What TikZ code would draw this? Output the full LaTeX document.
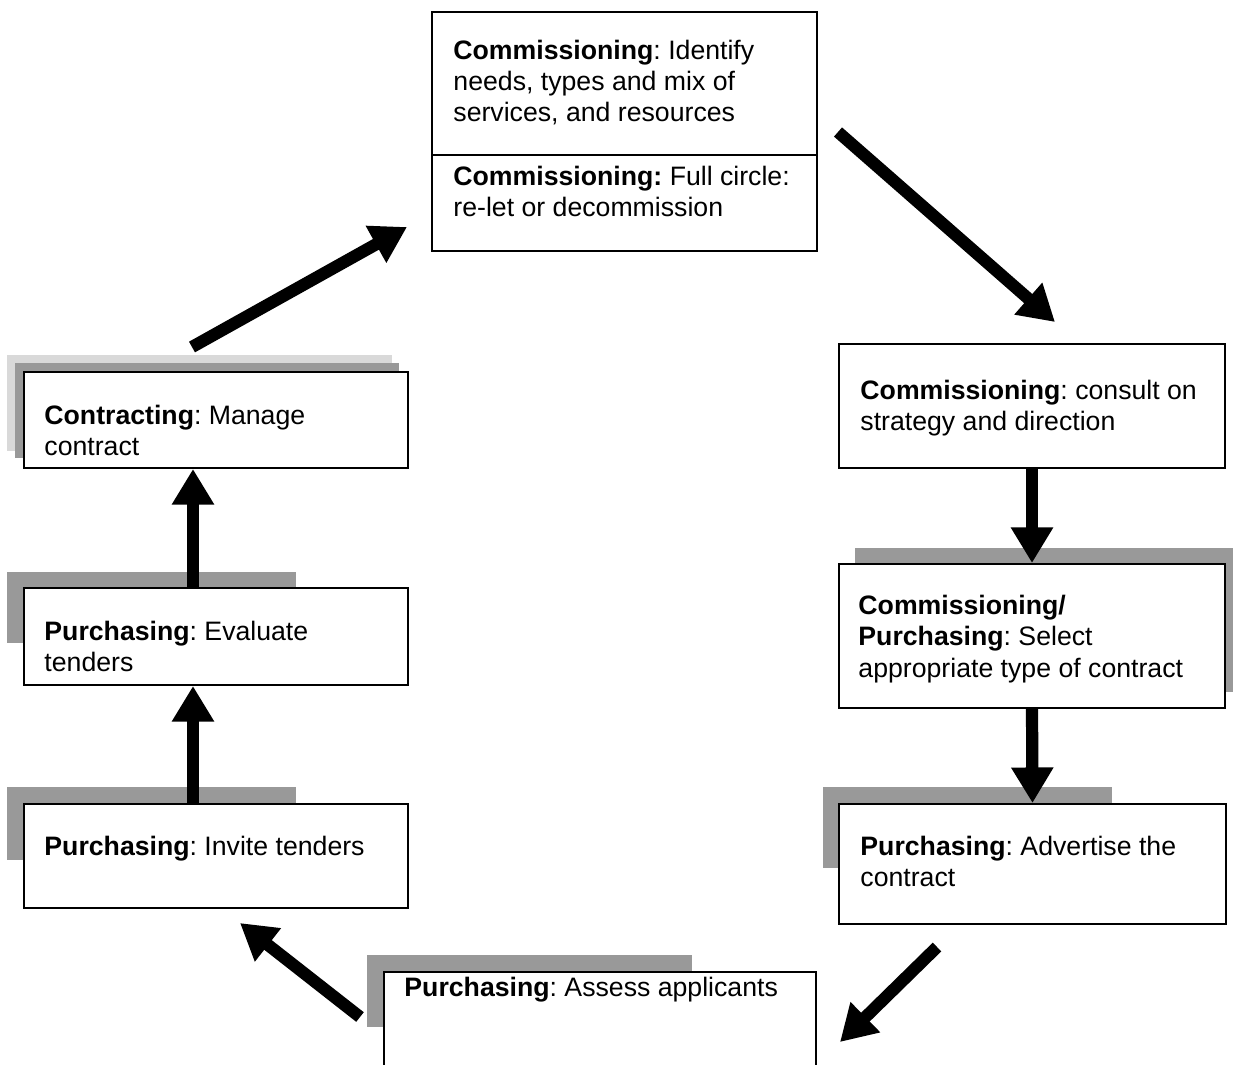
\documentclass[tikz,border=0pt]{standalone}
\usepackage{fontspec}
\setmainfont{Liberation Sans}
\usetikzlibrary{arrows.meta}
\frenchspacing
\newdimen\pxu
\pxu=0.45pt
\tikzstyle{stagebox} = [draw=black, fill=white, line width=0.9pt,
    rectangle, anchor=north west, inner sep=0]
\tikzstyle{stagetext} = [anchor=north west, inner sep=0, align=left,
    font=\fontsize{12}{14}\selectfont]
\tikzstyle{shadowdark} = [fill=black!40]
\tikzstyle{shadowlight} = [fill=black!15]
\tikzstyle{flowarrow} = [line width=5.5pt, -{Triangle[length=16pt,width=18pt]}]

\begin{document}
\begin{tikzpicture}[x=0.45pt, y=-0.45pt]
\useasboundingbox (0,0) rectangle (1234,1064);
\clip (0,0) rectangle (1234,1064);
% grey shadows behind the boxes
\fill[shadowlight] (7,355) rectangle (392,451);
\fill[shadowdark] (15,363) rectangle (399,458);
\fill[shadowdark] (7,572) rectangle (296,643);
\fill[shadowdark] (7,787) rectangle (296,860);
\fill[shadowdark] (855,548) rectangle (1233,692);
\fill[shadowdark] (823,787) rectangle (1112,868);
\fill[shadowdark] (367,955) rectangle (692,1027);
% boxes
\node[stagebox, minimum width=385*\pxu, minimum height=239*\pxu] (need) at (431,11) {};
\draw[line width=0.9pt] ([yshift=-144*\pxu]need.north west) -- ([yshift=-144*\pxu]need.north east);
\node[stagebox, minimum width=386*\pxu, minimum height=124*\pxu] (consult) at (838,343) {};
\node[stagebox, minimum width=386*\pxu, minimum height=144*\pxu] (select) at (838,563) {};
\node[stagebox, minimum width=387*\pxu, minimum height=120*\pxu] (advert) at (838,803) {};
\node[stagebox, minimum width=432*\pxu, minimum height=130*\pxu] (assess) at (383,971) {};
\node[stagebox, minimum width=384*\pxu, minimum height=104*\pxu] (invite) at (23,803) {};
\node[stagebox, minimum width=384*\pxu, minimum height=97*\pxu] (evaluate) at (23,587) {};
\node[stagebox, minimum width=384*\pxu, minimum height=96*\pxu] (manage) at (23,371) {};
% texts
\node[stagetext] (needtxt) at ([shift={(22,29)}]need.north west)
    {\textbf{Commissioning}: Identify\\needs, types and mix of\\services, and resources};
\node[stagetext] (circletxt) at ([shift={(22,155)}]need.north west)
    {\textbf{Commissioning:} Full circle:\\re-let or decommission};
\node[stagetext] (consulttxt) at ([shift={(22,37)}]consult.north west)
    {\textbf{Commissioning}: consult on\\strategy and direction};
\node[stagetext] (selecttxt) at ([shift={(20,32)}]select.north west)
    {\textbf{Commissioning/}\\\textbf{Purchasing}: Select\\appropriate type of contract};
\node[stagetext] (adverttxt) at ([shift={(22,33)}]advert.north west)
    {\textbf{Purchasing}: Advertise the\\contract};
\node[stagetext] (assesstxt) at ([shift={(21,6)}]assess.north west)
    {\textbf{Purchasing}: Assess applicants};
\node[stagetext] (invitetxt) at ([shift={(21,33)}]invite.north west)
    {\textbf{Purchasing}: Invite tenders};
\node[stagetext] (evaluatetxt) at ([shift={(21,34)}]evaluate.north west)
    {\textbf{Purchasing}: Evaluate\\tenders};
\node[stagetext] (managetxt) at ([shift={(21,34)}]manage.north west)
    {\textbf{Contracting}: Manage\\contract};
% arrow ends that float between boxes
\coordinate (manageout) at (192,347);
\coordinate (needin) at (407,227);
\coordinate (needout) at (838,132);
\coordinate (consultin) at (1055,322);
\coordinate (advertout) at (937,947);
\coordinate (assessin) at (840,1042);
\coordinate (assessout) at (360,1017);
\coordinate (invitein) at (240,923);
% arrows
\draw[flowarrow] (manageout) -- (needin);
\draw[flowarrow] (needout) -- (consultin);
\draw[flowarrow] (consult.south) -- (select.north);
\draw[flowarrow] (select.south) -- (advert.north);
\draw[flowarrow] (advertout) -- (assessin);
\draw[flowarrow] (assessout) -- (invitein);
\draw[flowarrow] ([xshift=-23*\pxu]invite.north) -- ([xshift=-23*\pxu]evaluate.south);
\draw[flowarrow] ([xshift=-23*\pxu]evaluate.north) -- ([xshift=-23*\pxu]manage.south);
\end{tikzpicture}
\end{document}
